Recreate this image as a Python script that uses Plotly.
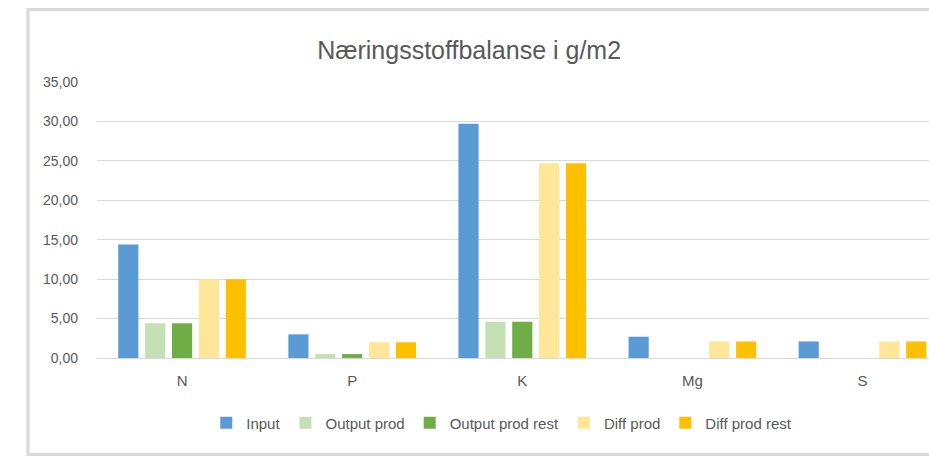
import plotly.graph_objects as go

categories = ["N", "P", "K", "Mg", "S"]
input_vals = [14.4, 3.0, 29.7, 2.7, 2.1]
output_prod = [4.4, 0.5, 4.6, 0.0, 0.0]
output_prod_rest = [4.4, 0.5, 4.6, 0.0, 0.0]
diff_prod = [10.0, 2.0, 24.7, 2.1, 2.1]
diff_prod_rest = [10.0, 2.0, 24.7, 2.1, 2.1]
y_ticks = [0, 5, 10, 15, 20, 25, 30, 35]

series = [
    ("Input", input_vals, "#5B9BD5"),
    ("Output prod", output_prod, "#C5E0B4"),
    ("Output prod rest", output_prod_rest, "#70AD47"),
    ("Diff prod", diff_prod, "#FFE699"),
    ("Diff prod rest", diff_prod_rest, "#FFC000"),
]

fig = go.Figure()
for name, vals, color in series:
    fig.add_trace(go.Bar(x=categories, y=vals, name=name,
                         marker=dict(color=color, line=dict(width=0))))

grey = "#595959"
fig.update_layout(
    width=929, height=457,
    margin=dict(l=97, r=0, t=82, b=99),
    paper_bgcolor="white", plot_bgcolor="white",
    font=dict(family="Liberation Sans, Arial, sans-serif", color=grey, size=15),
    separators=",.",
    barmode="group", bargap=0.21, bargroupgap=0.25,
    title=dict(text="Næringsstoffbalanse i g/m2", x=0.505, xanchor="center",
               y=0.89, yanchor="middle",
               font=dict(size=25, color=grey)),
    showlegend=True,
    legend=dict(orientation="h", x=0.4865, xanchor="center", y=-0.2355,
                yanchor="middle", font=dict(size=15, color=grey),
                traceorder="normal"),
    # chart frame, its right edge falls outside the picture
    shapes=[dict(type="rect", xref="paper", yref="paper",
                 x0=-0.083, x1=1.2, y0=-0.3496, y1=1.2627,
                 line=dict(color="#D9D9D9", width=3), layer="below")],
)
fig.update_xaxes(range=[-0.5, 4.391], showline=False, showgrid=False,
                 ticks="", ticklabelstandoff=12,
                 tickfont=dict(size=15, color=grey))
fig.update_yaxes(range=[0, 35], tickvals=y_ticks, tickformat=".2f",
                 showgrid=True, gridcolor="#D9D9D9", gridwidth=1,
                 zeroline=True, zerolinecolor="#D9D9D9", zerolinewidth=1,
                 showline=False, ticks="", ticklabelstandoff=18,
                 tickfont=dict(size=14, color=grey))

fig.write_html("out.html", config={"displayModeBar": False},
               post_script="document.body.style.margin='0';"
                           "document.body.style.overflow='hidden';")
